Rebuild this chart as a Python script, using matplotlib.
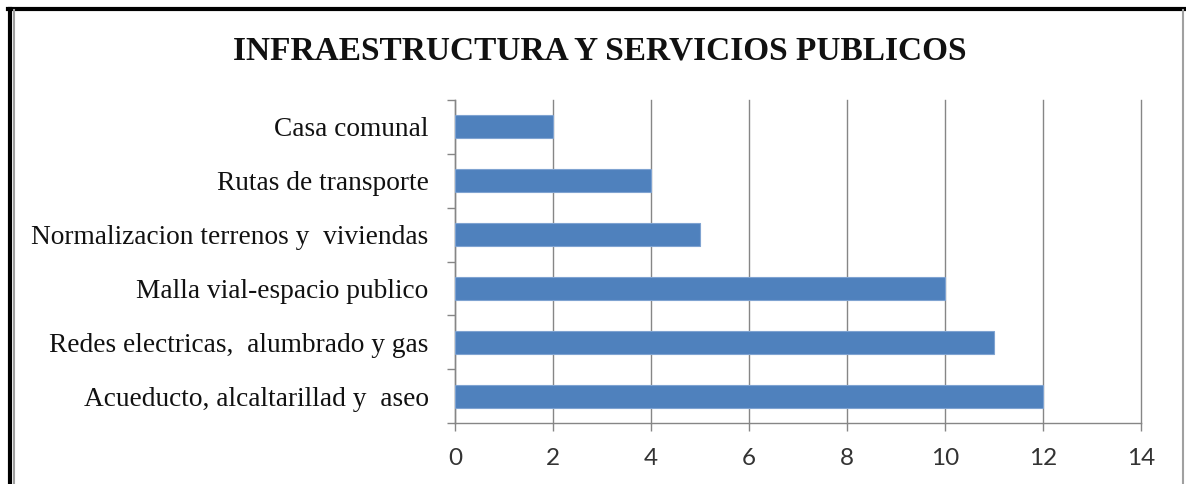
import matplotlib
matplotlib.use("Agg")
import matplotlib.pyplot as plt
from matplotlib.lines import Line2D
import numpy as np

categories = ["Acueducto, alcaltarillad y  aseo",
              "Redes electricas,  alumbrado y gas",
              "Malla vial-espacio publico",
              "Normalizacion terrenos y  viviendas",
              "Rutas de transporte",
              "Casa comunal"]
values = [12, 11, 10, 5, 4, 2]
xticks = [0, 2, 4, 6, 8, 10, 12, 14]
title = "INFRAESTRUCTURA Y SERVICIOS PUBLICOS"

W, H = 1186, 484
fig = plt.figure(figsize=(W / 100, H / 100), dpi=100)
fig.patch.set_facecolor("white")
ax = fig.add_axes([455 / W, 1 - 423 / H, (1141 - 455) / W, (423 - 100) / H])

y = np.arange(len(categories))
ax.barh(y, values, height=0.43, color="#4F81BD", edgecolor="#7FA3D1", linewidth=0.8, zorder=3)

ax.set_xlim(0, 14)
ax.set_ylim(-0.5, len(categories) - 0.5)
ax.set_xticks(xticks)
ax.set_xticklabels([str(v) for v in xticks], fontsize=17.5,
                   family=["Lato", "DejaVu Sans"], color="#333333")
ax.set_yticks(y)
ax.set_yticklabels(categories, fontsize=19.7, family=["Liberation Serif", "DejaVu Serif"], color="#111111")
ax.set_yticks(np.arange(len(categories) + 1) - 0.5, minor=True)
ax.tick_params(axis="y", which="major", length=0, pad=19)
ax.tick_params(axis="y", which="minor", length=6, color="#868686", width=1, direction="out")
ax.tick_params(axis="x", which="major", length=6, color="#868686", width=1, direction="out", pad=12)

ax.grid(axis="x", color="#868686", linewidth=1, zorder=0)
for gl in ax.get_xgridlines():
    gl.set_clip_on(False)
for s in ["top", "right"]:
    ax.spines[s].set_visible(False)
for s in ["left", "bottom"]:
    ax.spines[s].set_color("#868686")
    ax.spines[s].set_linewidth(1)

fig.text(600 / W, 1 - 51 / H, title, ha="center", va="center", fontsize=24, fontweight="bold",
         family=["Liberation Serif", "DejaVu Serif"], color="#111111")

# figure frame
fig.add_artist(Line2D([8 / W, 1], [1 - 8.5 / H, 1 - 8.5 / H], transform=fig.transFigure, color="black", linewidth=3))
fig.add_artist(Line2D([10 / W, 10 / W], [0, 1 - 8.5 / H], transform=fig.transFigure, color="black", linewidth=3))
fig.add_artist(Line2D([14 / W, 14 / W], [0, 1 - 10 / H], transform=fig.transFigure, color="#A0A0A0", linewidth=1.5))
fig.add_artist(Line2D([1183 / W, 1183 / W], [0, 1 - 10 / H], transform=fig.transFigure, color="#A0A0A0", linewidth=1.5))

fig.savefig("out.png", dpi=100)
